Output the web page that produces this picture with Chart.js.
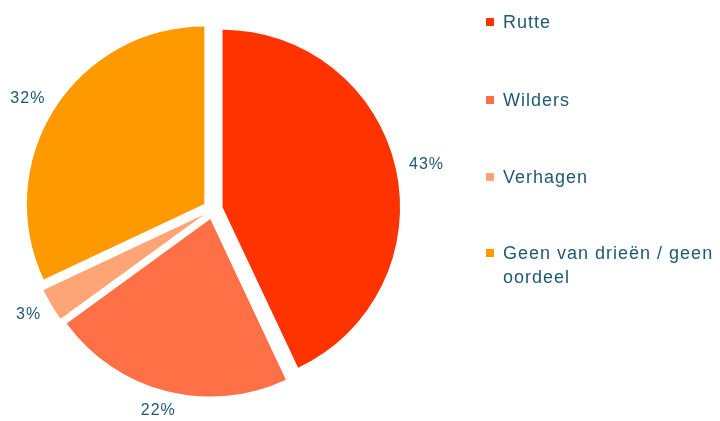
<!DOCTYPE html>
<html>
<head>
<meta charset="utf-8">
<script src="https://cdn.jsdelivr.net/npm/chart.js@4/dist/chart.umd.min.js"></script>
<style>
  html, body { margin: 0; padding: 0; background: #fff; }
  #wrap { position: relative; width: 720px; height: 421px; }
  #legend { position: absolute; left: 486px; top: 0; font-family: "Liberation Sans", Arial, sans-serif;
            font-size: 18px; letter-spacing: 1px; color: #1d5a72; }
  .item { position: absolute; left: 0; width: 230px; line-height: 24px; padding-left: 17px; }
  .box { position: absolute; left: 0; top: 8px; width: 8px; height: 8px; }
</style>
</head>
<body>
<div id="wrap">
  <canvas id="grafico" width="720" height="421"></canvas>
  <div id="legend"></div>
</div>
<script>
// categorieën en waarden (procenten)
var categorieen = ["Rutte", "Wilders", "Verhagen", "Geen van drieën / geen oordeel"];
var waarden = [43, 22, 3, 32];
var kleuren = ["#ff3300", "#ff7046", "#ffa474", "#ff9900"];
var legendaTop = [10, 88, 165, 241];

var tekstKleur = "#1d5a72";
var uitschuif = 10; // px dat elke punt naar buiten schuift

// HTML legenda
var legend = document.getElementById("legend");
categorieen.forEach(function (naam, i) {
    var div = document.createElement("div");
    div.className = "item";
    div.style.top = legendaTop[i] + "px";
    div.innerHTML = '<span class="box" style="background:' + kleuren[i] + '"></span>' + naam;
    legend.appendChild(div);
});

// punten zelf uitschuiven (Chart.js offset maakt de smalle punten groter)
var uitschuifPlugin = {
    id: "uitschuif",
    beforeDatasetsDraw: function (chart) {
        chart.getDatasetMeta(0).data.forEach(function (arc) {
            var mid = (arc.startAngle + arc.endAngle) / 2;
            arc._ox = arc.x;
            arc._oy = arc.y;
            arc.x += Math.cos(mid) * uitschuif;
            arc.y += Math.sin(mid) * uitschuif;
        });
    },
    afterDatasetsDraw: function (chart) {
        var ctx = chart.ctx;
        var meta = chart.getDatasetMeta(0);
        meta.data.forEach(function (arc) {
            arc.x = arc._ox;
            arc.y = arc._oy;
        });
        // percentages buiten de taart, tekstvak naar buiten geduwd
        ctx.save();
        ctx.font = "16px 'Liberation Sans', Arial, sans-serif";
        ctx.letterSpacing = "1px";
        ctx.fillStyle = tekstKleur;
        ctx.textAlign = "center";
        ctx.textBaseline = "middle";
        meta.data.forEach(function (arc, i) {
            var tekst = waarden[i] + "%";
            var w = ctx.measureText(tekst).width;
            var h = 12;
            var mid = (arc.startAngle + arc.endAngle) / 2;
            var r = arc.outerRadius + 24;
            var x = arc.x + Math.cos(mid) * r + Math.cos(mid) * w / 2;
            var y = arc.y + Math.sin(mid) * r + Math.sin(mid) * h / 2;
            ctx.fillText(tekst, x, y);
        });
        ctx.restore();
    }
};

var ctx = document.getElementById("grafico").getContext("2d");
var myChart = new Chart(ctx, {
    type: "pie",
    data: {
        labels: categorieen,
        datasets: [{
            data: waarden,
            backgroundColor: kleuren,
            borderWidth: 0
        }]
    },
    options: {
        responsive: false,
        animation: false,
        layout: { padding: { left: 35.3, right: 329.7, top: 31.9, bottom: 34.1 } },
        plugins: {
            legend: { display: false },
            tooltip: { enabled: false }
        }
    },
    plugins: [uitschuifPlugin]
});
</script>
</body>
</html>
